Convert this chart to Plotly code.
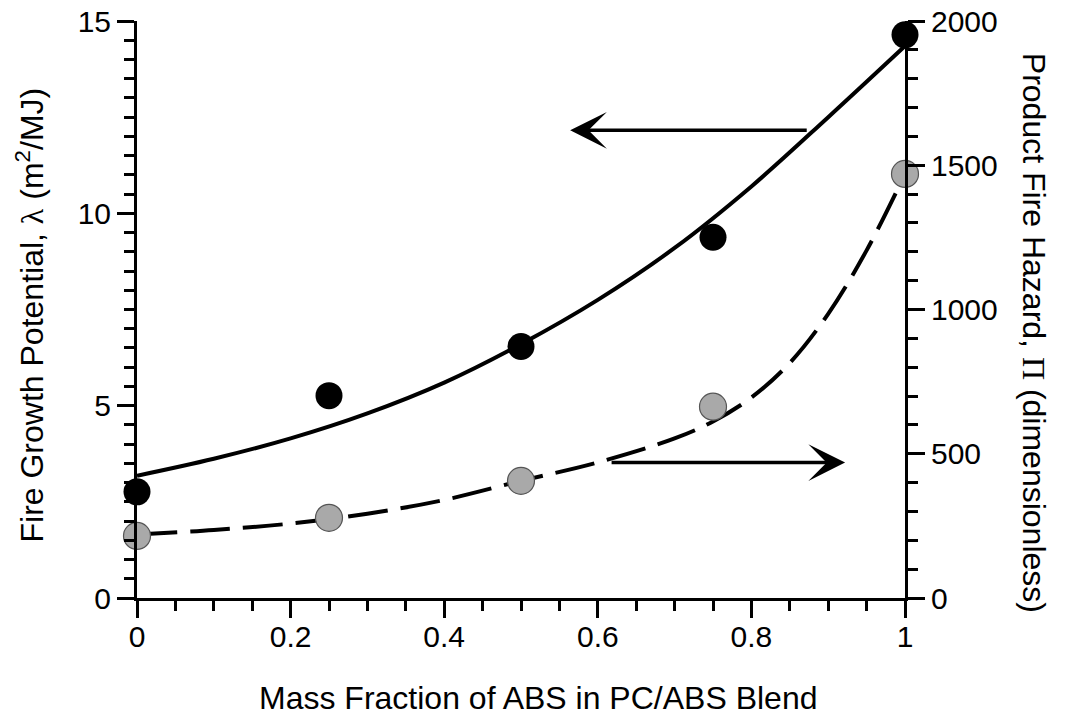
import plotly.graph_objects as go

# Measured data points
x_pts = [0, 0.25, 0.5, 0.75, 1.0]
lam_pts = [2.76, 5.26, 6.54, 9.38, 14.64]          # Fire growth potential (left axis)
pi_pts = [215, 278, 406, 663, 1470]                  # Product fire hazard (right axis)

# Fitted curves
x_fit_lam = [0, 0.1, 0.2, 0.3, 0.4, 0.5, 0.6, 0.7, 0.8, 0.9, 1.0]
lam_fit = [3.18, 3.62, 4.15, 4.8, 5.6, 6.6, 7.75, 9.1, 10.7, 12.5, 14.35]

x_fit_pi = [0.0, 0.1, 0.2, 0.3, 0.4, 0.5, 0.6, 0.7, 0.75, 0.8, 0.85, 0.9, 0.95, 1.0]
pi_fit = [220, 236, 258, 292, 340, 406, 470, 553, 612, 695, 815, 985, 1205, 1470]

x_ticks = [0, 0.2, 0.4, 0.6, 0.8, 1]
x_ticklabels = ["0", "0.2", "0.4", "0.6", "0.8", "1"]
y_ticks = [0, 5, 10, 15]
y2_ticks = [0, 500, 1000, 1500, 2000]

FONT = "Liberation Sans, Arial, Helvetica, sans-serif"
SERIF = "Liberation Serif, Times New Roman, serif"
FS = 30
TS = 32

fig = go.Figure()

fig.add_trace(go.Scatter(x=x_fit_lam, y=lam_fit, mode="lines", line=dict(color="black", width=4, shape="spline"),
                         yaxis="y", showlegend=False, hoverinfo="skip"))
fig.add_trace(go.Scatter(x=x_fit_pi, y=pi_fit, mode="lines",
                         line=dict(color="black", width=4, shape="spline", dash="40px,13px"),
                         yaxis="y2", showlegend=False, hoverinfo="skip"))
fig.add_trace(go.Scatter(x=x_pts, y=lam_pts, mode="markers", yaxis="y", cliponaxis=False,
                         marker=dict(size=27, color="black", line=dict(width=0)), showlegend=False))
fig.add_trace(go.Scatter(x=x_pts, y=pi_pts, mode="markers", yaxis="y2", cliponaxis=False,
                         marker=dict(size=27, color="#a9a9a9", line=dict(width=1.2, color="#555555")),
                         showlegend=False))

axis_common = dict(showgrid=False, zeroline=False, showline=True, linecolor="black", linewidth=3,
                   ticks="outside", ticklen=17, tickwidth=3, tickcolor="black", automargin=False,
                   ticklabeloverflow="allow",
                   tickfont=dict(family=FONT, size=FS, color="black"))

fig.update_layout(
    width=1071, height=717,
    margin=dict(l=137, r=166, t=21, b=119, autoexpand=False),
    paper_bgcolor="white", plot_bgcolor="white",
    font=dict(family=FONT, size=FS, color="black"),
    xaxis=dict(range=[0, 1], tickvals=x_ticks, ticktext=x_ticklabels, ticklabelstandoff=-7,
               minor=dict(dtick=0.05, ticklen=10, tickwidth=3, tickcolor="black", ticks="outside"),
               **axis_common),
    yaxis=dict(range=[0, 15], tickvals=y_ticks,
               minor=dict(dtick=0.5, ticklen=10, tickwidth=3, tickcolor="black", ticks="outside"),
               **axis_common),
    yaxis2=dict(range=[0, 2000], tickvals=y2_ticks, overlaying="y", side="right",
                minor=dict(dtick=100, ticklen=10, tickwidth=3, tickcolor="black", ticks="outside"),
                **axis_common),
)

annotations = [
    # x-axis title
    dict(text="Mass Fraction of ABS in PC/ABS Blend", xref="paper", yref="paper", x=0.522, y=-0.174,
         xanchor="center", yanchor="middle", showarrow=False, font=dict(size=TS)),
    # left y title
    dict(text=f"Fire Growth Potential, <span style='font-family:{SERIF}'>λ</span> (m<sup>2</sup>/MJ)",
         xref="paper", yref="paper", x=-0.139, y=0.49, textangle=-90,
         xanchor="center", yanchor="middle", showarrow=False, font=dict(size=TS)),
    # right y title
    dict(text=f"Product Fire Hazard, <span style='font-family:{SERIF}'>Π</span> (dimensionless)",
         xref="paper", yref="paper", x=1.169, y=0.46, textangle=90,
         xanchor="center", yanchor="middle", showarrow=False, font=dict(size=TS)),
    # arrows
    dict(x=0.564, y=12.16, ax=0.874, ay=12.16, xref="x", yref="y", axref="x", ayref="y",
         text="", showarrow=True, arrowhead=3, arrowsize=1.75, arrowwidth=3.5, arrowcolor="black"),
    dict(x=0.922, y=3.52, ax=0.616, ay=3.52, xref="x", yref="y", axref="x", ayref="y",
         text="", showarrow=True, arrowhead=3, arrowsize=1.75, arrowwidth=3.5, arrowcolor="black"),
]
fig.update_layout(annotations=annotations)

# remove the default page margin so the figure fills the window exactly
fig.write_html("out.html", config={"displayModeBar": False},
               post_script="document.body.style.margin='0';document.body.style.overflow='hidden';")
